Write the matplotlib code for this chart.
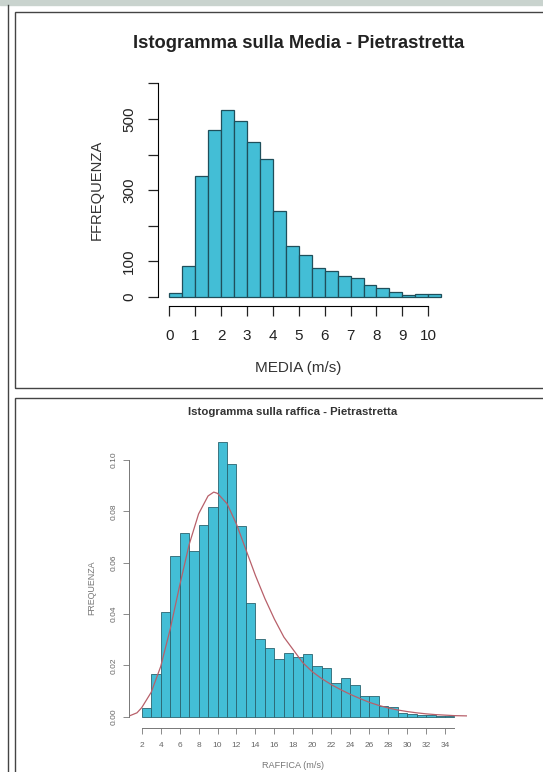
#Importing Modules
import numpy as np
import matplotlib.pyplot as plt
from matplotlib.patches import Rectangle

plt.rcParams['font.family'] = ['Liberation Sans', 'DejaVu Sans']

#---------/Data/------------------------------#

#Histogram of the mean wind speed (counts, bins of 0.5 m/s from 0)
media_bins = np.arange(0, 10.5, 0.5)
media_counts = [11, 88, 340, 469, 526, 494, 436, 387, 241, 142, 117,
                80, 74, 59, 54, 35, 26, 14, 5, 9, 8]
media_xticks = list(range(0, 11))
media_yticks = [0, 100, 200, 300, 400, 500, 600]
media_ylabels = ["0", "100", "", "300", "", "500", ""]

#Histogram of the gusts (density, bins of 1 m/s from 2)
raffica_bins = np.arange(2, 35, 1)
raffica_density = [0.0033, 0.0168, 0.0407, 0.0625, 0.0715, 0.0645, 0.0746,
                   0.0816, 0.1070, 0.0985, 0.0741, 0.0443, 0.0302, 0.0267,
                   0.0226, 0.0249, 0.0232, 0.0243, 0.0197, 0.0189, 0.0131,
                   0.0149, 0.0123, 0.0079, 0.0079, 0.0040, 0.0039, 0.0016,
                   0.0010, 0.0006, 0.0005, 0.0003, 0.0002]
raffica_xticks = list(range(2, 35, 2))
raffica_yticks = [0.00, 0.02, 0.04, 0.06, 0.08, 0.10]

#Fitted curve
curve_x = [0.7, 1.5, 2, 3, 4, 5, 6, 7, 8, 9, 9.6, 10, 11, 12, 13, 14, 15,
           16, 17, 18, 19, 20, 21, 22, 23, 24, 25, 26, 27, 28, 29, 30, 31,
           32, 33, 34, 35, 36.3]
curve_y = [0.0003, 0.0015, 0.0035, 0.0095, 0.0195, 0.034, 0.051, 0.067,
           0.079, 0.086, 0.0875, 0.087, 0.083, 0.075, 0.065, 0.055, 0.046,
           0.038, 0.031, 0.026, 0.021, 0.0175, 0.0148, 0.0125, 0.0105,
           0.0087, 0.0071, 0.0056, 0.0044, 0.0034, 0.0026, 0.002, 0.0015,
           0.0011, 0.0008, 0.0006, 0.0004, 0.0003]

#---------/Figure/------------------------------#

W, H = 543, 772
fig = plt.figure(figsize=(W / 100, H / 100), dpi=100)

#helper: pixel box (left, top, right, bottom) -> figure fraction
def px_box(l, t, r, b):
    return [l / W, 1 - b / H, (r - l) / W, (b - t) / H]

def px_pt(x, y):
    return x / W, 1 - y / H

#Page decoration
fig.patches.append(Rectangle((0, 1 - 5 / H), 1, 5 / H, transform=fig.transFigure,
                             color="#c9d3ce", zorder=0))
fig.lines.append(plt.Line2D([8 / W, 8 / W], [0, 1 - 5 / H], transform=fig.transFigure,
                            color="#444444", lw=1))
fig.patches.append(Rectangle((15 / W, 1 - 388 / H), 1, (388 - 12) / H,
                             transform=fig.transFigure, fill=False,
                             ec="#444444", lw=1, zorder=0))
fig.patches.append(Rectangle((15 / W, -0.1), 1, 1 - 398 / H + 0.1,
                             transform=fig.transFigure, fill=False,
                             ec="#444444", lw=1, zorder=0))

bar_fill = "#43bed6"
bar_edge = "#1f4f5b"

#---------/Top chart/------------------------------#

ax1 = fig.add_axes(px_box(158.4, 74.9, 452.1, 305.5))
ax1.bar(media_bins, media_counts, width=0.5, align="edge",
        color=bar_fill, edgecolor=bar_edge, linewidth=0.9)
ax1.set_xlim(-0.42, 10.92)
ax1.set_ylim(-24, 624)
for s in ["top", "right"]:
    ax1.spines[s].set_visible(False)
ax1.spines["left"].set_bounds(0, 600)
ax1.spines["bottom"].set_bounds(0, 10)
ax1.set_xticks(media_xticks)
ax1.set_yticks(media_yticks)
ax1.set_yticklabels(media_ylabels, rotation=90, va="center")
ax1.tick_params(axis="both", length=7, width=0.9, labelsize=11, color="#222222",
                labelcolor="#222222")
ax1.tick_params(axis="x", pad=10)
ax1.tick_params(axis="y", pad=9)
ax1.patch.set_alpha(0)

x, y = px_pt(298.5, 43)
fig.text(x, y, "Istogramma sulla Media - Pietrastretta", ha="center", va="center",
         fontsize=13.2, fontweight="bold", color="#222222")
x, y = px_pt(298, 368)
fig.text(x, y, "MEDIA (m/s)", ha="center", va="center", fontsize=11, color="#333333")
x, y = px_pt(97, 190)
fig.text(x, y, "FFREQUENZA", ha="center", va="center", rotation=90,
         fontsize=10.6, color="#333333")

#---------/Bottom chart/------------------------------#

ax2 = fig.add_axes(px_box(129.2, 430.5, 467, 727.7))
ax2.bar(raffica_bins, raffica_density, width=1, align="edge",
        color=bar_fill, edgecolor="#2a6470", linewidth=0.6)
ax2.plot(curve_x, curve_y, color="#b8606a", lw=0.9)
ax2.set_xlim(0.68, 36.32)
ax2.set_ylim(-0.0043, 0.1115)
for s in ["top", "right"]:
    ax2.spines[s].set_visible(False)
ax2.spines["left"].set_bounds(0, 0.10)
ax2.spines["bottom"].set_bounds(2, 35)
for s in ["left", "bottom"]:
    ax2.spines[s].set_color("#777777")
    ax2.spines[s].set_linewidth(0.7)
ax2.set_xticks(raffica_xticks)
ax2.set_yticks(raffica_yticks)
ax2.set_yticklabels(["%.2f" % v for v in raffica_yticks], rotation=90, va="center")
ax2.tick_params(axis="both", length=4, width=0.6, labelsize=6, color="#777777",
                labelcolor="#666666")
ax2.tick_params(axis="x", pad=6)
ax2.tick_params(axis="y", pad=4)
ax2.patch.set_alpha(0)

x, y = px_pt(292.6, 412)
fig.text(x, y, "Istogramma sulla raffica - Pietrastretta", ha="center", va="center",
         fontsize=8.2, fontweight="bold", color="#333333")
x, y = px_pt(292.5, 765)
fig.text(x, y, "RAFFICA (m/s)", ha="center", va="center", fontsize=6.6, color="#777777")
x, y = px_pt(92, 588)
fig.text(x, y, "FREQUENZA", ha="center", va="center", rotation=90,
         fontsize=6.4, color="#777777")

fig.savefig("out.png", dpi=100)
